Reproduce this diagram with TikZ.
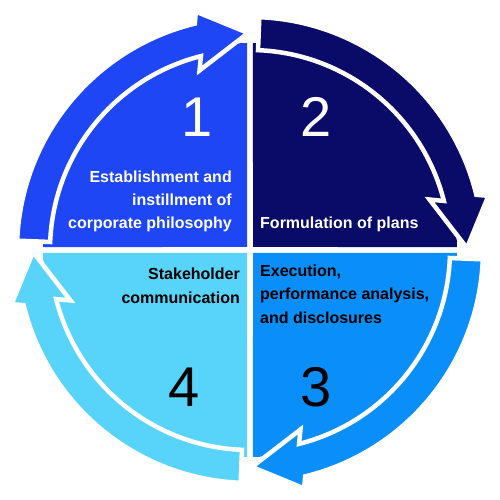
\documentclass[tikz,border=0pt]{standalone}
\usepackage{fontspec}
\setmainfont{Liberation Sans}
\definecolor{qone}{RGB}{30,70,245}
\definecolor{qtwo}{RGB}{10,10,105}
\definecolor{qthree}{RGB}{10,143,250}
\definecolor{qfour}{RGB}{88,212,250}
\newcommand\cyclearrow[2]{%
  \filldraw[arrowshape, fill=#2]
    ({#1-2.3}:233) arc[start angle={#1-2.3}, end angle={#1-76.3}, radius=233]
    -- ({#1-77.2}:244.5) -- ({#1-89.5}:217) -- ({#1-74.3}:186.5)
    -- ({#1-75.8}:200) arc[start angle={#1-75.8}, end angle={#1-2.3}, radius=200]
    -- cycle;}
\begin{document}
\begin{tikzpicture}[x=1pt,y=1pt,
  lbl/.style={font=\bfseries\fontsize{16}{23.2}\selectfont, inner sep=0pt},
  digit/.style={font=\fontsize{56}{60}\selectfont, inner sep=0pt, anchor=base},
  arrowshape/.style={draw=white, line width=4.5pt, line join=miter, miter limit=20}]
\useasboundingbox (-250,-250) rectangle (250,250);
% quadrant sectors
\fill[qone] (-3,3) -- (90.83:207) arc[start angle=90.83, end angle=179.17, radius=207] -- cycle;
\fill[qtwo] (3,3) -- (0.83:207) arc[start angle=0.83, end angle=89.17, radius=207] -- cycle;
\fill[qthree] (3,-3) -- (-89.17:207) arc[start angle=-89.17, end angle=-0.83, radius=207] -- cycle;
\fill[qfour] (-3,-3) -- (180.83:207) arc[start angle=180.83, end angle=269.17, radius=207] -- cycle;
% cycle arrows
\cyclearrow{180}{qone}
\cyclearrow{90}{qtwo}
\cyclearrow{0}{qthree}
\cyclearrow{-90}{qfour}
% digits
\node[digit, white] (n1) at (-53,113.3) {1};
\node[digit, white] (n2) at (65.6,113.3) {2};
\node[digit] (n3) at (65.8,-156.7) {3};
\node[digit] (n4) at (-65.8,-156.7) {4};
% labels
\node[lbl, white, align=right, anchor=base east] (t1) at (-18,21) {Establishment and\\instillment of\\corporate philosophy};
\node[lbl, white, align=left, anchor=base west] (t2) at (10,21) {Formulation of plans};
\node[lbl, align=left, anchor=base west] (t3) at (10,-73) {Execution,\\performance analysis,\\and disclosures};
\node[lbl, align=right, anchor=base east] (t4) at (-10,-53) {Stakeholder\hspace{4.5pt}\\communication};
\end{tikzpicture}
\end{document}
